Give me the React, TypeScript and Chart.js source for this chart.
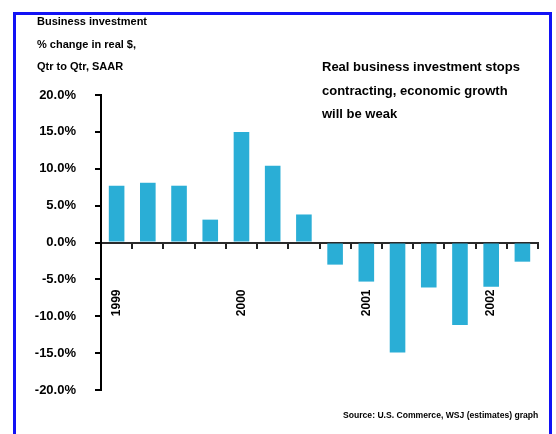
import React, { useEffect, useRef } from "react";
import { Chart, registerables } from "chart.js";

Chart.register(...registerables);

// Quarterly change in real business investment, annualized
const quarters = [
  "1999 Q1", "1999 Q2", "1999 Q3", "1999 Q4",
  "2000 Q1", "2000 Q2", "2000 Q3", "2000 Q4",
  "2001 Q1", "2001 Q2", "2001 Q3", "2001 Q4",
  "2002 Q1", "2002 Q2",
];
const yearLabels = ["1999", "2000", "2001", "2002"];
const investmentChange = [7.7, 8.1, 7.7, 3.1, 15.0, 10.4, 3.8, -3.0, -5.3, -14.9, -6.1, -11.2, -6.0, -2.6];
const yTicks = [20, 15, 10, 5, 0, -5, -10, -15, -20];

const titleLines = ["Business investment", "% change in real $,", "Qtr to Qtr, SAAR"];
const noteLines = ["Real business investment stops", "contracting, economic growth", "will be weak"];
const sourceText = "Source: U.S. Commerce, WSJ (estimates) graph";

const FONT = "'Liberation Sans', Arial, sans-serif";

export default function App() {
  const canvasRef = useRef<HTMLCanvasElement | null>(null);

  useEffect(() => {
    const canvas = canvasRef.current;
    if (!canvas) return;
    const chart = new Chart(canvas, {
      type: "bar",
      data: {
        labels: quarters,
        datasets: [
          {
            data: investmentChange,
            backgroundColor: "#2aaed6",
            borderWidth: 0,
            categoryPercentage: 1,
            barPercentage: 0.5,
          },
        ],
      },
      options: {
        responsive: false,
        animation: false,
        devicePixelRatio: 1,
        layout: { padding: { left: 0, top: 95, right: 18, bottom: 44 } },
        plugins: { legend: { display: false }, tooltip: { enabled: false } },
        scales: {
          x: {
            position: { y: 0 } as any,
            offset: true,
            afterFit: (scale: any) => {
              scale.paddingLeft = 0;
              scale.paddingRight = 0;
            },
            grid: {
              offset: true,
              drawOnChartArea: false,
              drawTicks: true,
              tickLength: 5,
              color: "#222",
              lineWidth: 2,
            },
            border: { display: true, color: "#2a2a2a", width: 2 },
            ticks: {
              autoSkip: false,
              minRotation: 90,
              maxRotation: 90,
              padding: 42,
              color: "#000",
              font: { family: FONT, size: 12, weight: "bold" },
              callback: (_v: any, i: number) => (i % 4 === 0 ? yearLabels[i / 4] : ""),
            },
          },
          y: {
            min: -20,
            max: 20,
            afterFit: (scale: any) => {
              scale.width = 101;
            },
            afterBuildTicks: (scale: any) => {
              scale.ticks = yTicks.map((v) => ({ value: v }));
            },
            grid: {
              drawOnChartArea: false,
              drawTicks: true,
              tickLength: 6,
              color: "#000",
              lineWidth: 2,
            },
            border: { display: true, color: "#000", width: 2 },
            ticks: {
              padding: 19,
              color: "#000",
              font: { family: FONT, size: 13, weight: "bold" },
              callback: (v: any) => `${Number(v).toFixed(1)}%`,
            },
          },
        },
      },
    });
    return () => chart.destroy();
  }, []);

  const textBase: React.CSSProperties = {
    position: "absolute",
    fontFamily: FONT,
    fontWeight: "bold",
    color: "#000",
    whiteSpace: "nowrap",
  };

  return (
    <div
      style={{
        position: "fixed",
        left: 0,
        top: 0,
        width: 556,
        height: 434,
        background: "#fff",
        overflow: "hidden",
      }}
    >
      <canvas ref={canvasRef} width={556} height={434} style={{ display: "block" }} />
      <div
        style={{
          position: "absolute",
          left: 13,
          top: 12,
          width: 539,
          height: 500,
          boxSizing: "border-box",
          border: "3px solid #1212f5",
          pointerEvents: "none",
        }}
      />
      <div style={{ ...textBase, left: 37, top: 10, fontSize: 11, lineHeight: "22.5px" }}>
        {titleLines.map((t) => (
          <div key={t}>{t}</div>
        ))}
      </div>
      <div style={{ ...textBase, left: 322, top: 55, fontSize: 13, lineHeight: "23.5px" }}>
        {noteLines.map((t) => (
          <div key={t}>{t}</div>
        ))}
      </div>
      <div style={{ ...textBase, left: 343, top: 409, fontSize: 8.6, lineHeight: "12px" }}>{sourceText}</div>
    </div>
  );
}
